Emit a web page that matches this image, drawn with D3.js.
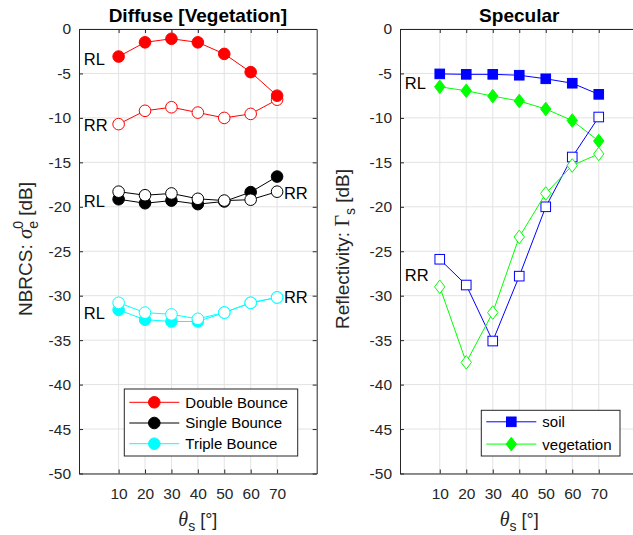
<!DOCTYPE html>
<html><head><meta charset="utf-8">
<script src="https://cdn.jsdelivr.net/npm/d3@7"></script>
<style>
body{margin:0;background:#fff;}
svg{display:block;font-family:"Liberation Sans",Arial,sans-serif;}
</style></head><body>
<svg id="c" width="633" height="535"></svg>
<script>
const angles = [10,20,30,40,50,60,70];
const xTicks = [10,20,30,40,50,60,70];
const yTicks = [0,-5,-10,-15,-20,-25,-30,-35,-40,-45,-50];

// Diffuse [Vegetation]
const doubleRL = [-3.1,-1.5,-1.1,-1.5,-2.8,-4.85,-7.5];
const doubleRR = [-10.7,-9.2,-8.8,-9.4,-10.0,-9.55,-7.95];
const singleRL = [-19.15,-19.6,-19.3,-19.7,-19.4,-18.35,-16.6];
const singleRR = [-18.3,-18.7,-18.5,-19.1,-19.3,-19.2,-18.3];
const tripleRL = [-31.6,-32.7,-32.9,-32.9,-31.9,-30.8,-30.2];
const tripleRR = [-30.8,-31.9,-32.1,-32.6,-31.9,-30.8,-30.2];

// Specular
const soilRL = [-5.05,-5.1,-5.1,-5.2,-5.6,-6.1,-7.35];
const soilRR = [-25.9,-28.8,-35.1,-27.8,-20.0,-14.4,-9.9];
const vegRL  = [-6.5,-6.95,-7.55,-8.1,-9.0,-10.3,-12.6];
const vegRR  = [-29.0,-37.5,-31.9,-23.4,-18.5,-15.35,-14.05];

const leftLegend = ["Double Bounce","Single Bounce","Triple Bounce"];
const rightLegend = ["soil","vegetation"];

const svg = d3.select("#c");
const axisCol = "#262626";

function panel(opt){
  const g = svg.append("g");
  const x = d3.scaleLinear().domain([-5,85]).range([opt.x0,opt.x1]);
  const y = d3.scaleLinear().domain([-50,0]).range([473.5,29]);
  const clipId = "clip"+opt.id;
  svg.append("clipPath").attr("id",clipId).append("rect")
    .attr("x",opt.x0).attr("y",29).attr("width",opt.x1-opt.x0).attr("height",444.5);
  g.selectAll(".gx").data(xTicks).join("line")
    .attr("x1",d=>x(d)).attr("x2",d=>x(d)).attr("y1",29).attr("y2",473.5)
    .attr("stroke","#e3e3e3").attr("stroke-width",1);
  g.selectAll(".gy").data(yTicks).join("line")
    .attr("x1",opt.x0).attr("x2",opt.x1).attr("y1",d=>y(d)).attr("y2",d=>y(d))
    .attr("stroke","#e3e3e3").attr("stroke-width",1);
  const ax = g.append("g").attr("transform","translate(0,473.5)")
    .call(d3.axisBottom(x).tickValues(xTicks).tickSizeInner(-4).tickSizeOuter(0).tickPadding(14));
  const axT = g.append("g").attr("transform","translate(0,29)")
    .call(d3.axisTop(x).tickValues(xTicks).tickSizeInner(-4).tickSizeOuter(0).tickFormat(""));
  const ay = g.append("g").attr("transform",`translate(${opt.x0},0)`)
    .call(d3.axisLeft(y).tickValues(yTicks).tickSizeInner(-4).tickSizeOuter(0).tickPadding(8).tickFormat(d3.format("d")));
  const ayR = g.append("g").attr("transform",`translate(${opt.x1},0)`)
    .call(d3.axisRight(y).tickValues(yTicks).tickSizeInner(-4).tickSizeOuter(0).tickFormat(""));
  [ax,axT,ay,ayR].forEach(a=>{
    a.select(".domain").attr("stroke",axisCol).attr("stroke-width",1);
    a.selectAll(".tick line").attr("stroke",axisCol);
    a.selectAll("text").attr("fill",axisCol).style("font-size","15.5px").style("font-family","'Liberation Sans',Arial,sans-serif");
  });
  ay.selectAll("text").text(d=>String(d).replace("−","-"));
  svg.append("text").attr("x",(opt.x0+Math.min(opt.x1,638.5))/2).attr("y",22)
    .attr("text-anchor","middle").attr("font-weight","bold").attr("font-size","19px")
    .attr("fill","#000").text(opt.title);
  const xl = svg.append("text").attr("x",(opt.x0+opt.x1)/2).attr("y",526)
    .attr("text-anchor","middle").attr("font-size","18px").attr("fill",axisCol);
  xl.append("tspan").attr("font-family","'Liberation Serif',serif").attr("font-style","italic").attr("font-size","20px").text("θ");
  xl.append("tspan").attr("dy",5).attr("font-size","14px").text("s");
  xl.append("tspan").attr("dy",-5).text(" [°]");
  return {g,x,y,clipId};
}

function drawSeries(p, vals, color, shape, filled){
  const line = d3.line().x((d,i)=>p.x(angles[i])).y(d=>p.y(d));
  p.g.append("path").datum(vals).attr("d",line).attr("fill","none")
    .attr("stroke",color).attr("stroke-width",1).attr("clip-path",`url(#${p.clipId})`);
  const pts = vals.map((v,i)=>[p.x(angles[i]),p.y(v)]);
  drawMarkers(p.g, pts, color, shape, filled);
}
function drawMarkers(g, pts, color, shape, filled){
  const fill = filled?color:"#fff";
  pts.forEach(([cx,cy])=>{
    if(shape==="circle"){
      g.append("circle").attr("cx",cx).attr("cy",cy).attr("r",5.8)
        .attr("fill",fill).attr("stroke",color).attr("stroke-width",1);
    } else if(shape==="square"){
      g.append("rect").attr("x",cx-4.8).attr("y",cy-4.8).attr("width",9.6).attr("height",9.6)
        .attr("fill",fill).attr("stroke",color).attr("stroke-width",1);
    } else {
      const r=6.8, w=5.2;
      g.append("path").attr("d",`M${cx},${cy-r}L${cx+w},${cy}L${cx},${cy+r}L${cx-w},${cy}Z`)
        .attr("fill",fill).attr("stroke",color).attr("stroke-width",1);
    }
  });
}

const L = panel({id:"L",x0:79,x1:316.7,title:"Diffuse [Vegetation]"});
drawSeries(L, doubleRR, "#ff0000","circle",false);
drawSeries(L, doubleRL, "#ff0000","circle",true);
drawSeries(L, singleRL, "#000000","circle",true);
drawSeries(L, singleRR, "#000000","circle",false);
drawSeries(L, tripleRL, "#00ffff","circle",true);
drawSeries(L, tripleRR, "#00ffff","circle",false);

const R = panel({id:"R",x0:400,x1:638.5,title:"Specular"});
drawSeries(R, soilRL, "#0000ff","square",true);
drawSeries(R, vegRL, "#00ff00","diamond",true);
drawSeries(R, soilRR, "#0000ff","square",false);
drawSeries(R, vegRR, "#00ff00","diamond",false);

const leftNotes = [
  {t:"RL",x:-3.2,y:-3.4},{t:"RR",x:-3.2,y:-10.8},
  {t:"RL",x:-3.2,y:-19.4},{t:"RR",x:72.6,y:-18.5},
  {t:"RL",x:-3.2,y:-31.9},{t:"RR",x:72.6,y:-30.2}];
const rightNotes = [{t:"RL",x:-3.2,y:-6.1},{t:"RR",x:-3.2,y:-27.7}];
function notes(p, arr){
  arr.forEach(n=>{
    p.g.append("text").attr("x",p.x(n.x)).attr("y",p.y(n.y)).attr("dy","0.36em")
      .attr("font-size","16.5px").attr("fill","#000").text(n.t);
  });
}
notes(L,leftNotes); notes(R,rightNotes);

function ylabel(cx, parts){
  const t = svg.append("text").attr("transform",`translate(${cx},249) rotate(-90)`)
    .attr("text-anchor","middle").attr("font-size","19px").attr("fill",axisCol);
  parts(t);
}
ylabel(32, t=>{
  t.append("tspan").text("NBRCS: ");
  t.append("tspan").attr("font-family","'Liberation Serif',serif").attr("font-style","italic").attr("font-size","21px").text("σ");
  t.append("tspan").attr("dy",-9).attr("font-size","14px").text("0");
  t.append("tspan").attr("dx",-8).attr("dy",15).attr("font-size","14px").text("e");
  t.append("tspan").attr("dy",-6).text(" [dB]");
});
ylabel(349, t=>{
  t.append("tspan").text("Reflectivity: ");
  t.append("tspan").attr("font-family","'Liberation Serif',serif").attr("font-size","20px").text("Γ");
  t.append("tspan").attr("dy",6).attr("font-size","14px").text("s");
  t.append("tspan").attr("dy",-6).text(" [dB]");
});

function legend(box, items, colors, shapes){
  const g = svg.append("g");
  g.append("rect").attr("x",box.x).attr("y",box.y).attr("width",box.w).attr("height",box.h)
    .attr("fill","#fff").attr("stroke",axisCol).attr("stroke-width",1);
  items.forEach((name,i)=>{
    const cy = box.y + box.first + i*box.step;
    g.append("line").attr("x1",box.x+5).attr("x2",box.x+55).attr("y1",cy).attr("y2",cy)
      .attr("stroke",colors[i]).attr("stroke-width",1);
    drawMarkers(g, [[box.x+30,cy]], colors[i], shapes[i], true);
    g.append("text").attr("x",box.x+61).attr("y",cy).attr("dy","0.36em")
      .attr("font-size","15px").attr("fill","#000").text(name);
  });
}
legend({x:124.3,y:389,w:173.4,h:67,first:13.3,step:20.7}, leftLegend, ["#ff0000","#000000","#00ffff"], ["circle","circle","circle"]);
legend({x:481.3,y:410.3,w:138.7,h:45.7,first:11.5,step:22.3}, rightLegend, ["#0000ff","#00ff00"], ["square","diamond"]);
</script>
</body></html>
